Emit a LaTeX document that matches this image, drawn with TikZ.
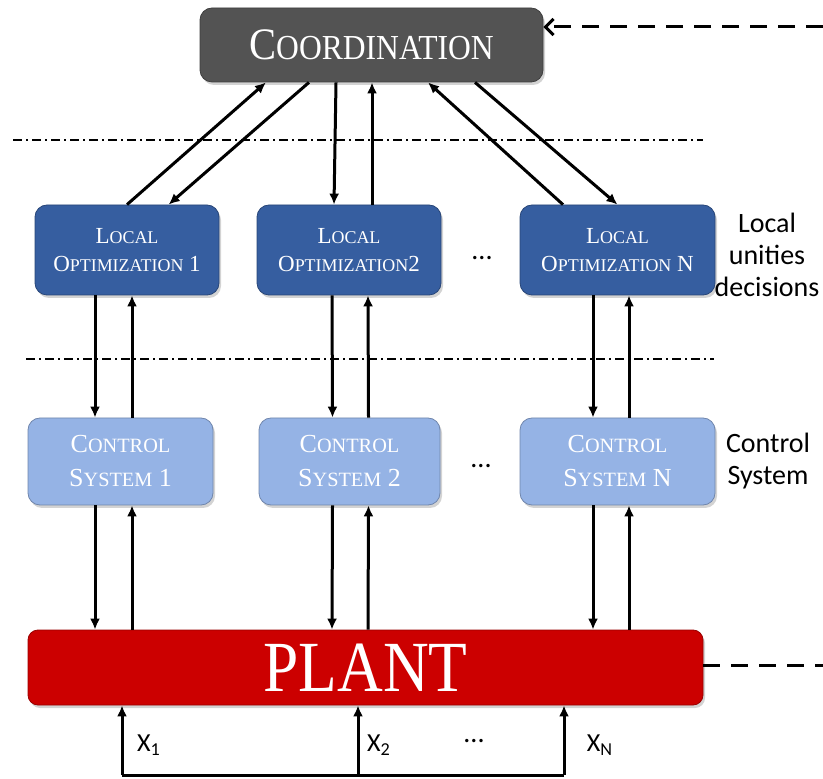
\documentclass[tikz,border=0pt]{standalone}
\usepackage{fontspec}
\newfontfamily\labelfont{Carlito}
\newfontfamily\boxfont{Liberation Serif}
\usetikzlibrary{arrows.meta,shadows}

\definecolor{coordgray}{RGB}{83,83,83}
\definecolor{lonavy}{RGB}{54,94,160}
\definecolor{ctrlblue}{RGB}{149,179,229}
\definecolor{plantred}{RGB}{204,0,0}

% faked small caps, as in the slide
\newcommand{\sml}[1]{\scalebox{0.78}{#1}}

\tikzset{
  unit/.style={rounded corners=6pt, draw=#1!75!black, fill=#1, text=white,
    align=center, inner sep=0pt,
    drop shadow={opacity=0.35, shadow xshift=1pt, shadow yshift=-1.5pt}},
  coordbox/.style={unit=coordgray, minimum width=171.5pt, minimum height=37pt,
    font=\boxfont\fontsize{22.5}{26}\selectfont},
  localbox/.style={unit=lonavy, minimum height=45pt,
    font=\boxfont\fontsize{11.5}{14}\selectfont},
  ctrlbox/.style={unit=ctrlblue, minimum height=43.5pt,
    font=\boxfont\fontsize{13}{17}\selectfont},
  plantbox/.style={unit=plantred, rounded corners=5pt, minimum width=337.5pt,
    minimum height=37.5pt, font=\boxfont\fontsize{36}{40}\selectfont},
  flow/.style={line width=1.5pt, -{Latex[length=5.5pt,width=5pt]}},
  dashlink/.style={line width=1.5pt, dash pattern=on 8.5pt off 5.5pt},
  levelline/.style={line width=1pt, dash pattern=on 4.5pt off 2pt on 1pt off 2pt},
  side/.style={font=\labelfont\fontsize{14}{16}\selectfont, align=center},
}

\begin{document}
\begin{tikzpicture}[x=0.5pt, y=-0.5pt]
    \useasboundingbox (0,0) rectangle (823,779);

    % levels
    \node[coordbox] (coord) at (371.5,45) {\scalebox{0.9}[1]{C\sml{OORDINATION}}};

    \node[localbox, minimum width=92pt] (lo1) at (127,250) {L\sml{OCAL}\\O\sml{PTIMIZATION} 1};
    \node[localbox, minimum width=92pt] (lo2) at (349,250) {L\sml{OCAL}\\O\sml{PTIMIZATION}2};
    \node[localbox, minimum width=97.5pt] (loN) at (617.5,250) {L\sml{OCAL}\\O\sml{PTIMIZATION} N};

    \node[ctrlbox, minimum width=92.5pt] (cs1) at (120.5,461.5) {C\sml{ONTROL}\\S\sml{YSTEM} 1};
    \node[ctrlbox, minimum width=90.5pt] (cs2) at (349.5,461.5) {C\sml{ONTROL}\\S\sml{YSTEM} 2};
    \node[ctrlbox, minimum width=97.5pt] (csN) at (617.5,461.5) {C\sml{ONTROL}\\S\sml{YSTEM} N};

    \node[plantbox] (plant) at (365.5,667.5) {\scalebox{0.88}[1]{PLANT}};

    % side texts and dots
    \node[side] (locdec) at (767,255) {Local\\unities\\decisions};
    \node[side] (ctrlsys) at (768,461) {Control\\System};
    \node[side] (dots1) at (482,258) {...};
    \node[side] (dots2) at (481,466) {...};
    \node[side] (dots3) at (474,741) {...};

    % separators
    \coordinate (s1a) at (13,140);  \coordinate (s1b) at (703,140);
    \coordinate (s2a) at (26,359);  \coordinate (s2b) at (714,359);
    \draw[levelline] (s1a) -- (s1b);
    \draw[levelline] (s2a) -- (s2b);

    % coordination <-> local optimization
    \draw[flow] (lo1.north) -- ([xshift=-52.75pt]coord.south);
    \draw[flow] ([xshift=-31.25pt]coord.south) -- ([xshift=20.8pt]lo1.north);
    \draw[flow] ([xshift=-17.75pt]coord.south) -- ([xshift=-7.5pt]lo2.north);
    \draw[flow] ([xshift=11.5pt]lo2.north) -- ([xshift=0.25pt]coord.south);
    \draw[flow] ([xshift=-27.25pt]loN.north) -- ([xshift=28.25pt]coord.south);
    \draw[flow] ([xshift=51.75pt]coord.south) -- (loN.north);

    % local optimization <-> control system
    \draw[flow] ([xshift=-16pt]lo1.south) -- ([xshift=-12.75pt]cs1.north);
    \draw[flow] ([xshift=5.75pt]cs1.north) -- ([xshift=2.5pt]lo1.south);
    \draw[flow] ([xshift=-8.5pt]lo2.south) -- ([xshift=-8.5pt]cs2.north);
    \draw[flow] ([xshift=9.5pt]cs2.north) -- ([xshift=9.5pt]lo2.south);
    \draw[flow] ([xshift=-12.25pt]loN.south) -- ([xshift=-12.25pt]csN.north);
    \draw[flow] ([xshift=5.75pt]csN.north) -- ([xshift=5.75pt]loN.south);

    % control system <-> plant
    \draw[flow] ([xshift=-12.75pt]cs1.south) -- ([xshift=-135.25pt]plant.north);
    \draw[flow] ([xshift=-116.75pt]plant.north) -- ([xshift=5.75pt]cs1.south);
    \draw[flow] ([xshift=-8.5pt]cs2.south) -- ([xshift=-16.75pt]plant.north);
    \draw[flow] ([xshift=1.25pt]plant.north) -- ([xshift=9.5pt]cs2.south);
    \draw[flow] ([xshift=-12.25pt]csN.south) -- ([xshift=113.75pt]plant.north);
    \draw[flow] ([xshift=131.75pt]plant.north) -- ([xshift=5.75pt]csN.south);

    % external links
    \coordinate (topin) at (823,27);
    \coordinate (plantout) at (823,665);
    \draw[dashlink, -{Straight Barb[length=4pt,width=8pt]}] (topin) -- (coord.east |- topin);
    \draw[dashlink] (plant.east |- plantout) -- (plantout);

    % plant inputs
    \coordinate (x1) at (122,775);
    \coordinate (x2) at (358,775);
    \coordinate (xN) at (564,775);
    \draw[line width=1.5pt] (x1) -- (xN);
    \draw[flow] (x1) -- (plant.south -| x1);
    \draw[flow] (x2) -- (plant.south -| x2);
    \draw[flow] (xN) -- (plant.south -| xN);
    \node[side, font=\labelfont\fontsize{13}{15}\selectfont] (lx1) at (149,745) {X\textsubscript{1}};
    \node[side, font=\labelfont\fontsize{13}{15}\selectfont] (lx2) at (379,745) {X\textsubscript{2}};
    \node[side, font=\labelfont\fontsize{13}{15}\selectfont] (lxN) at (600,745) {X\textsubscript{N}};
\end{tikzpicture}
\end{document}
